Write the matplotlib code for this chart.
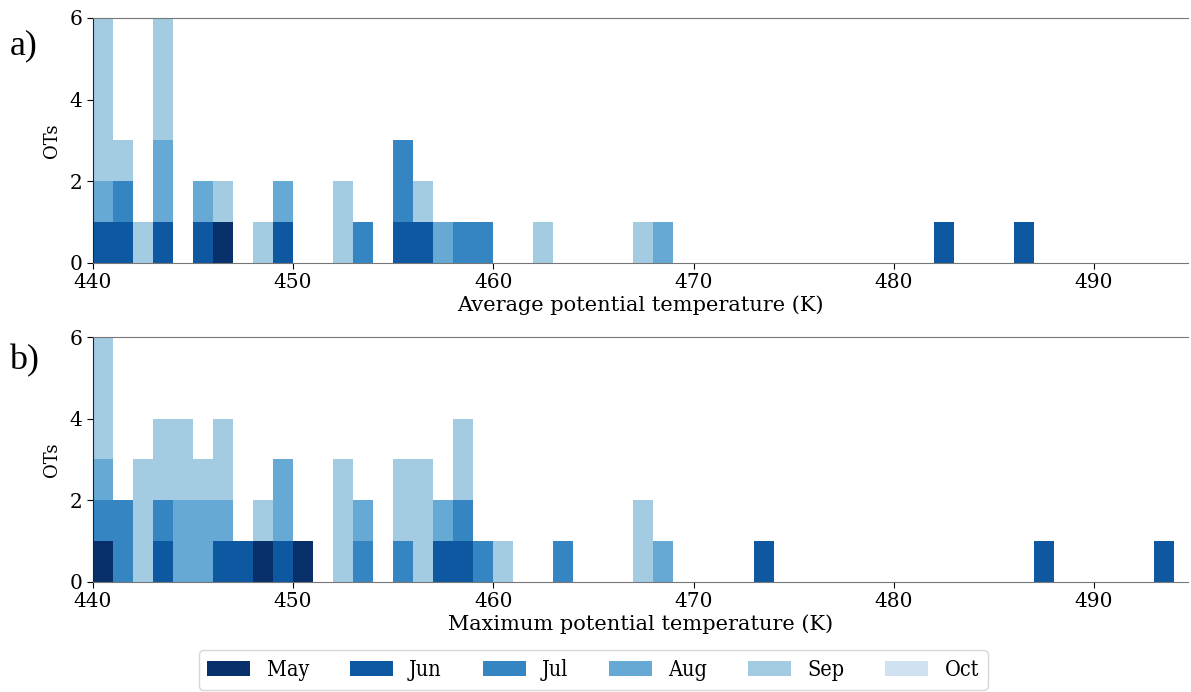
import numpy as np
import matplotlib
matplotlib.use("Agg")
import matplotlib.pyplot as plt

months = ["May", "Jun", "Jul", "Aug", "Sep", "Oct"]
colors = ["#08306b", "#0d58a1", "#3585c2", "#65a9d4", "#a3cce3", "#d0e1f2"]

# bin left edges (K) with OT counts per month, panel a (average theta)
avg_bins = [440, 441, 442, 443, 445, 446, 448, 449, 452, 453, 455, 456,
            457, 458, 459, 462, 467, 468, 482, 486]
avg_may = [0, 0, 0, 0, 0, 1, 0, 0, 0, 0, 0, 0, 0, 0, 0, 0, 0, 0, 0, 0]
avg_jun = [1, 1, 0, 1, 1, 0, 0, 1, 0, 0, 1, 1, 0, 0, 0, 0, 0, 0, 1, 1]
avg_jul = [0, 1, 0, 0, 0, 0, 0, 0, 0, 1, 2, 0, 0, 1, 1, 0, 0, 0, 0, 0]
avg_aug = [1, 0, 0, 2, 1, 0, 0, 1, 0, 0, 0, 0, 1, 0, 0, 0, 0, 1, 0, 0]
avg_sep = [4, 1, 1, 3, 0, 1, 1, 0, 2, 0, 0, 1, 0, 0, 0, 1, 1, 0, 0, 0]
avg_oct = [0] * len(avg_bins)

# panel b (maximum theta)
max_bins = [440, 441, 442, 443, 444, 445, 446, 447, 448, 449, 450, 452,
            453, 455, 456, 457, 458, 459, 460, 463, 467, 468, 473, 487, 493]
max_may = [1, 0, 0, 0, 0, 0, 0, 0, 1, 0, 1, 0, 0, 0, 0, 0, 0, 0, 0, 0, 0, 0, 0, 0, 0]
max_jun = [0, 0, 0, 1, 0, 0, 1, 1, 0, 1, 0, 0, 0, 0, 0, 1, 1, 0, 0, 0, 0, 0, 1, 1, 1]
max_jul = [1, 2, 0, 1, 0, 0, 0, 0, 0, 0, 0, 0, 1, 1, 0, 0, 1, 1, 0, 1, 0, 0, 0, 0, 0]
max_aug = [1, 0, 0, 0, 2, 2, 1, 0, 0, 2, 0, 0, 1, 0, 0, 1, 0, 0, 0, 0, 0, 1, 0, 0, 0]
max_sep = [3, 0, 3, 2, 2, 1, 2, 0, 1, 0, 0, 3, 0, 2, 3, 0, 2, 0, 1, 0, 2, 0, 0, 0, 0]
max_oct = [0] * len(max_bins)

plt.rcParams["font.family"] = "DejaVu Serif"

fig = plt.figure(figsize=(11.91, 6.92), dpi=100)
ax1 = fig.add_axes([0.078, 0.620, 0.9195, 0.354])
ax2 = fig.add_axes([0.078, 0.159, 0.9195, 0.354])


def stack(ax, bins, series):
    bottom = np.zeros(len(bins))
    for name, vals, c in zip(months, series, colors):
        vals = np.array(vals, dtype=float)
        ax.bar(bins, vals, width=1.0, bottom=bottom, align="edge",
               color=c, label=name, linewidth=0)
        bottom += vals


stack(ax1, avg_bins, [avg_may, avg_jun, avg_jul, avg_aug, avg_sep, avg_oct])
stack(ax2, max_bins, [max_may, max_jun, max_jul, max_aug, max_sep, max_oct])

for ax, xl in [(ax1, "Average potential temperature (K)"),
               (ax2, "Maximum potential temperature (K)")]:
    ax.set_xlim(440, 494.7)
    ax.set_ylim(0, 6)
    ax.set_yticks([0, 2, 4, 6])
    ax.set_xticks([440, 450, 460, 470, 480, 490])
    ax.tick_params(labelsize=14.5, length=4)
    ax.set_xlabel(xl, fontsize=15, labelpad=2)
    ax.set_ylabel("OTs", fontsize=13, labelpad=6)
    ax.spines["right"].set_visible(False)
    ax.spines["top"].set_color("#777777")
    ax.spines["bottom"].set_color("#777777")
    ax.spines["left"].set_color("#222222")

fig.text(0.008, 0.922, "a)", fontsize=26, family="Liberation Serif")
fig.text(0.008, 0.466, "b)", fontsize=26, family="Liberation Serif")

handles, labels = ax1.get_legend_handles_labels()
fig.legend(handles, labels, loc="lower center", ncol=6,
           bbox_to_anchor=(0.498, -0.012),
           prop=dict(family="DejaVu Serif", stretch="condensed", size=15.5),
           handlelength=2.0, handletextpad=0.75, columnspacing=1.9,
           frameon=True)

fig.savefig("out.png", dpi=100)
